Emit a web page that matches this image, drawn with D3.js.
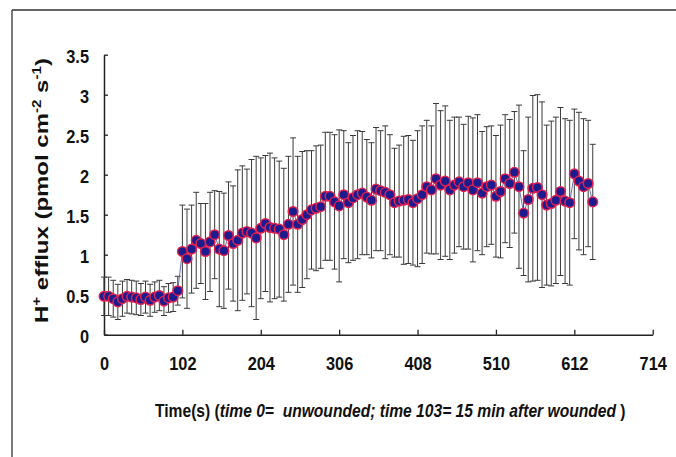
<!DOCTYPE html>
<html>
<head>
<meta charset="utf-8">
<script src="https://cdn.jsdelivr.net/npm/d3@7"></script>
<style>
  html, body { margin: 0; padding: 0; background: #fff; }
  svg { display: block; }
  text { font-family: "Liberation Sans", Arial, sans-serif; font-weight: bold; fill: #111; }
</style>
</head>
<body>
<script>
// ---- data ----
const times = [0,6,12,18,24,30,36,42,48,54,60,66,72,78,84,90,96,
  102,108,114,120,126,132,138,144,150,156,162,168,174,180,186,192,198,204,
  210,216,222,228,234,240,246,252,258,264,270,276,282,288,294,300,306,
  312,318,324,330,336,342,348,354,360,366,372,378,384,390,396,402,408,
  414,420,426,432,438,444,450,456,462,468,474,480,486,492,498,504,510,
  516,522,528,534,540,546,552,558,564,570,576,582,588,594,600,606,612,
  618,624,630,636];
const means = [0.48,0.48,0.45,0.41,0.45,0.48,0.47,0.46,0.44,0.47,0.43,0.47,0.49,0.42,0.46,0.47,0.55,
  1.04,0.95,1.07,1.18,1.14,1.04,1.16,1.25,1.07,1.05,1.24,1.14,1.18,1.27,1.29,1.27,1.21,1.33,
  1.39,
  1.34,1.33,1.32,1.25,1.38,1.54,1.38,1.44,1.50,1.56,1.58,1.60,1.73,1.73,1.66,1.61,1.75,1.65,1.71,1.75,1.77,
  1.72,1.68,1.82,1.80,1.78,1.75,1.65,1.67,1.68,1.69,1.65,1.70,1.75,1.85,
  1.81,1.95,1.87,1.92,1.81,1.87,1.91,1.85,1.90,1.81,1.90,1.77,1.85,1.87,1.73,1.79,1.95,1.89,2.03,1.85,
  1.52,1.69,1.83,1.84,1.75,1.62,1.64,1.68,1.79,1.67,1.65,2.01,1.92,1.85,1.89,1.66];
const sds = [0.24,0.24,0.23,0.22,0.22,0.21,0.21,0.21,0.20,0.20,0.20,0.19,0.19,0.18,0.18,0.18,0.18,
  0.58,0.62,0.55,0.60,0.50,0.60,0.62,0.55,0.72,0.72,0.67,0.72,0.88,0.84,0.78,0.92,1.02,0.88,
  0.85,
  0.93,0.88,0.85,0.83,0.85,0.92,0.85,0.85,0.80,0.74,0.78,0.77,0.80,0.80,0.84,0.95,0.80,0.75,0.78,0.80,0.77,
  0.72,0.72,0.77,0.75,0.83,0.75,0.68,0.70,0.80,0.80,0.78,0.85,0.86,0.83,
  0.80,0.94,0.93,0.94,0.87,0.85,0.81,0.78,0.83,0.90,0.85,0.77,0.75,0.74,0.76,0.83,0.80,0.80,0.76,1.02,
  0.78,1.03,1.16,1.16,1.16,1.00,1.03,1.04,1.05,1.03,1.03,0.81,0.86,0.85,0.79,0.72];
const xTicks = [0,102,204,306,408,510,612,714];
const yTicks = [0,0.5,1,1.5,2,2.5,3,3.5];
const yTickLabels = ["0","0.5","1","1.5","2","2.5","3","3.5"];

const data = times.map((t,i) => ({t, m: means[i], sd: sds[i]}));

// ---- layout ----
const W = 676, H = 457;
const svg = d3.select("body").append("svg").attr("width", W).attr("height", H);

// frame
svg.append("line").attr("x1",12).attr("y1",10).attr("x2",W).attr("y2",10)
  .attr("stroke","#333").attr("stroke-width",1.3);
svg.append("line").attr("x1",12).attr("y1",10).attr("x2",12).attr("y2",H)
  .attr("stroke","#333").attr("stroke-width",1.3);

const x = d3.scaleLinear().domain([0,714]).range([104, 652.7]);
const y = d3.scaleLinear().domain([0,3.5]).range([334.7, 54.7]);

function condense(sel, f) {
  sel.each(function() {
    const w = this.getComputedTextLength();
    d3.select(this).attr("textLength", w * f).attr("lengthAdjust","spacingAndGlyphs");
  });
}

// axes
const yAxis = d3.axisLeft(y).tickValues(yTicks)
  .tickFormat((d,i) => yTickLabels[i]).tickSize(-4).tickSizeOuter(0).tickPadding(15);
const gy = svg.append("g").attr("transform","translate(104,0)").call(yAxis);
gy.selectAll("text").attr("font-size",19).attr("dy","0.42em")
  .style("font-family","'Liberation Sans', Arial, sans-serif").style("font-weight","bold").attr("fill","#111");
condense(gy.selectAll("text"), 0.86);

const xAxis = d3.axisBottom(x).tickValues(xTicks).tickSize(-5).tickSizeOuter(0).tickPadding(22);
const gx = svg.append("g").attr("transform","translate(0,334.7)").call(xAxis);
gx.selectAll("text").attr("font-size",19)
  .style("font-family","'Liberation Sans', Arial, sans-serif").style("font-weight","bold").attr("fill","#111");
condense(gx.selectAll("text"), 0.86);

[gx, gy].forEach(g => {
  g.select(".domain").attr("stroke","#222").attr("stroke-width",1.5);
  g.selectAll(".tick line").attr("stroke","#222").attr("stroke-width",1.3);
});

// error bars
const eb = svg.append("g").attr("stroke","#3a3a3a").attr("stroke-width",1);
eb.selectAll("line.v").data(data).join("line").attr("class","v")
  .attr("x1", d => x(d.t)).attr("x2", d => x(d.t))
  .attr("y1", d => y(d.m - d.sd)).attr("y2", d => y(d.m + d.sd));
eb.selectAll("line.top").data(data).join("line").attr("class","top")
  .attr("x1", d => x(d.t) - 3).attr("x2", d => x(d.t) + 3)
  .attr("y1", d => y(d.m + d.sd)).attr("y2", d => y(d.m + d.sd));
eb.selectAll("line.bot").data(data).join("line").attr("class","bot")
  .attr("x1", d => x(d.t) - 3).attr("x2", d => x(d.t) + 3)
  .attr("y1", d => y(d.m - d.sd)).attr("y2", d => y(d.m - d.sd));

// connecting line
svg.append("path").datum(data)
  .attr("fill","none").attr("stroke","#5564a8").attr("stroke-width",0.9)
  .attr("d", d3.line().x(d => x(d.t)).y(d => y(d.m)));

// markers
svg.append("g").selectAll("circle").data(data).join("circle")
  .attr("cx", d => x(d.t)).attr("cy", d => y(d.m)).attr("r", 4.8)
  .attr("fill","#1c1c8e").attr("stroke","#e3204f").attr("stroke-width",1.5);

// x axis title
const xt = svg.append("text").attr("font-size",19).attr("text-anchor","start")
  .attr("x",0).attr("y",0).style("white-space","pre");
xt.append("tspan").text("Time(s) (");
xt.append("tspan").attr("font-style","italic").text("time 0=  unwounded; time 103= 15 min after wounded");
xt.append("tspan").text(" )");
{
  const bb = xt.node().getBBox();
  const target = 471;
  const s = target / bb.width;
  xt.attr("transform", `translate(155,417) scale(${s},1)`);
}

// y axis title
const yt = svg.append("text").attr("font-size",19).attr("text-anchor","start")
  .attr("x",0).attr("y",0).style("white-space","pre");
yt.append("tspan").text("H");
yt.append("tspan").attr("font-size",12).attr("dy",-7).text("+");
yt.append("tspan").attr("dy",7).text(" efflux (pmol cm");
yt.append("tspan").attr("font-size",12).attr("dy",-7).text("-2");
yt.append("tspan").attr("dy",7).text(" s");
yt.append("tspan").attr("font-size",12).attr("dy",-7).text("-1");
yt.append("tspan").attr("dy",7).text(")");
{
  const bb = yt.node().getBBox();
  const target = 265;
  const s = target / bb.width;
  yt.attr("transform", `translate(48,323) rotate(-90) scale(${s},1)`);
}
</script>
</body>
</html>
